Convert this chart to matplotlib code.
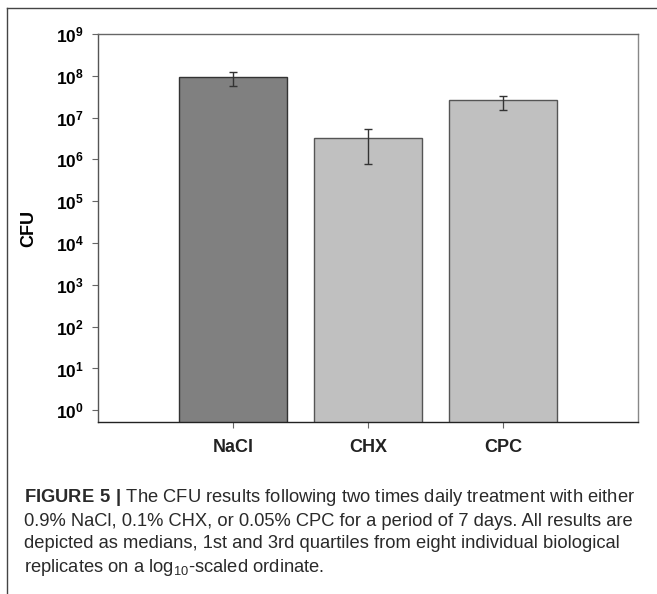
import matplotlib
matplotlib.use("Agg")
import matplotlib.pyplot as plt
from matplotlib.lines import Line2D
import numpy as np

plt.rcParams['font.family'] = ['Liberation Sans', 'DejaVu Sans']
plt.rcParams['mathtext.fontset'] = 'custom'
plt.rcParams['mathtext.rm'] = 'Liberation Sans'
plt.rcParams['mathtext.bf'] = 'Liberation Sans:bold'

# medians with 1st / 3rd quartiles (CFU)
groups = ['NaCl', 'CHX', 'CPC']
medians = [9.2e7, 3.3e6, 2.57e7]
q1 = [5.6e7, 7.9e5, 1.5e7]
q3 = [1.25e8, 5.2e6, 3.2e7]
decades = list(range(0, 10))

bar_colors = ['#808080', '#c0c0c0', '#c0c0c0']
edge_colors = ['#333333', '#555555', '#555555']

fig = plt.figure(figsize=(6.57, 5.94), dpi=100)
ax = fig.add_axes([0.1492, 0.289, 0.8218, 0.6538])

x = np.arange(len(groups))
med = np.array(medians)
yerr = np.array([med - np.array(q1), np.array(q3) - med])
ax.bar(x, med, width=0.8, color=bar_colors, edgecolor=edge_colors, linewidth=1.0, zorder=2)
ax.errorbar(x, med, yerr=yerr, fmt='none', ecolor='#333333', elinewidth=1.0,
            capsize=3, capthick=1.0, zorder=3)

ax.set_yscale('log')
ax.set_ylim(10 ** -0.288, 1e9)
ax.set_xlim(-1, 3)
ax.set_yticks([10.0 ** d for d in decades])
ax.set_yticklabels([r'$\mathbf{10^{%d}}$' % d for d in decades], fontsize=12.5)
ax.yaxis.set_minor_locator(matplotlib.ticker.NullLocator())
ax.set_xticks(x)
ax.set_xticklabels(groups, fontsize=13, fontweight='bold', color='#222222')
ax.tick_params(axis='y', length=4, width=0.8, color='#666666', pad=6)
ax.tick_params(axis='x', length=4, width=0.8, color='#666666', pad=8)

ax.set_ylabel('CFU', fontsize=13, fontweight='bold')
ax.yaxis.set_label_coords(-0.113, 0.5)

ax.spines['left'].set_color('#555555')
ax.spines['bottom'].set_color('#222222')
ax.spines['top'].set_color('#666666')
ax.spines['right'].set_color('#888888')
for s in ax.spines.values():
    s.set_linewidth(1.0)

# page frame
fig.add_artist(Line2D([0.0107, 1.0], [0.9865, 0.9865], color='#444444', lw=1.0,
                      transform=fig.transFigure))
fig.add_artist(Line2D([0.0107, 0.0107], [0.0, 0.9865], color='#444444', lw=1.0,
                      transform=fig.transFigure))

caption = [
    r'$\mathbf{FIGURE\ 5\ |}$ The CFU results following two times daily treatment with either',
    '0.9% NaCl, 0.1% CHX, or 0.05% CPC for a period of 7 days. All results are',
    'depicted as medians, 1st and 3rd quartiles from eight individual biological',
    r'replicates on a log$_{10}$-scaled ordinate.',
]
# caption line centres, in pixels from the top
line_y = [498, 521, 544, 567]
for txt, py in zip(caption, line_y):
    fig.text(0.0365, 1 - py / 594, txt, fontsize=13.2, color='#2a2a2a', va='center', ha='left')

fig.savefig('out.png', dpi=100)
